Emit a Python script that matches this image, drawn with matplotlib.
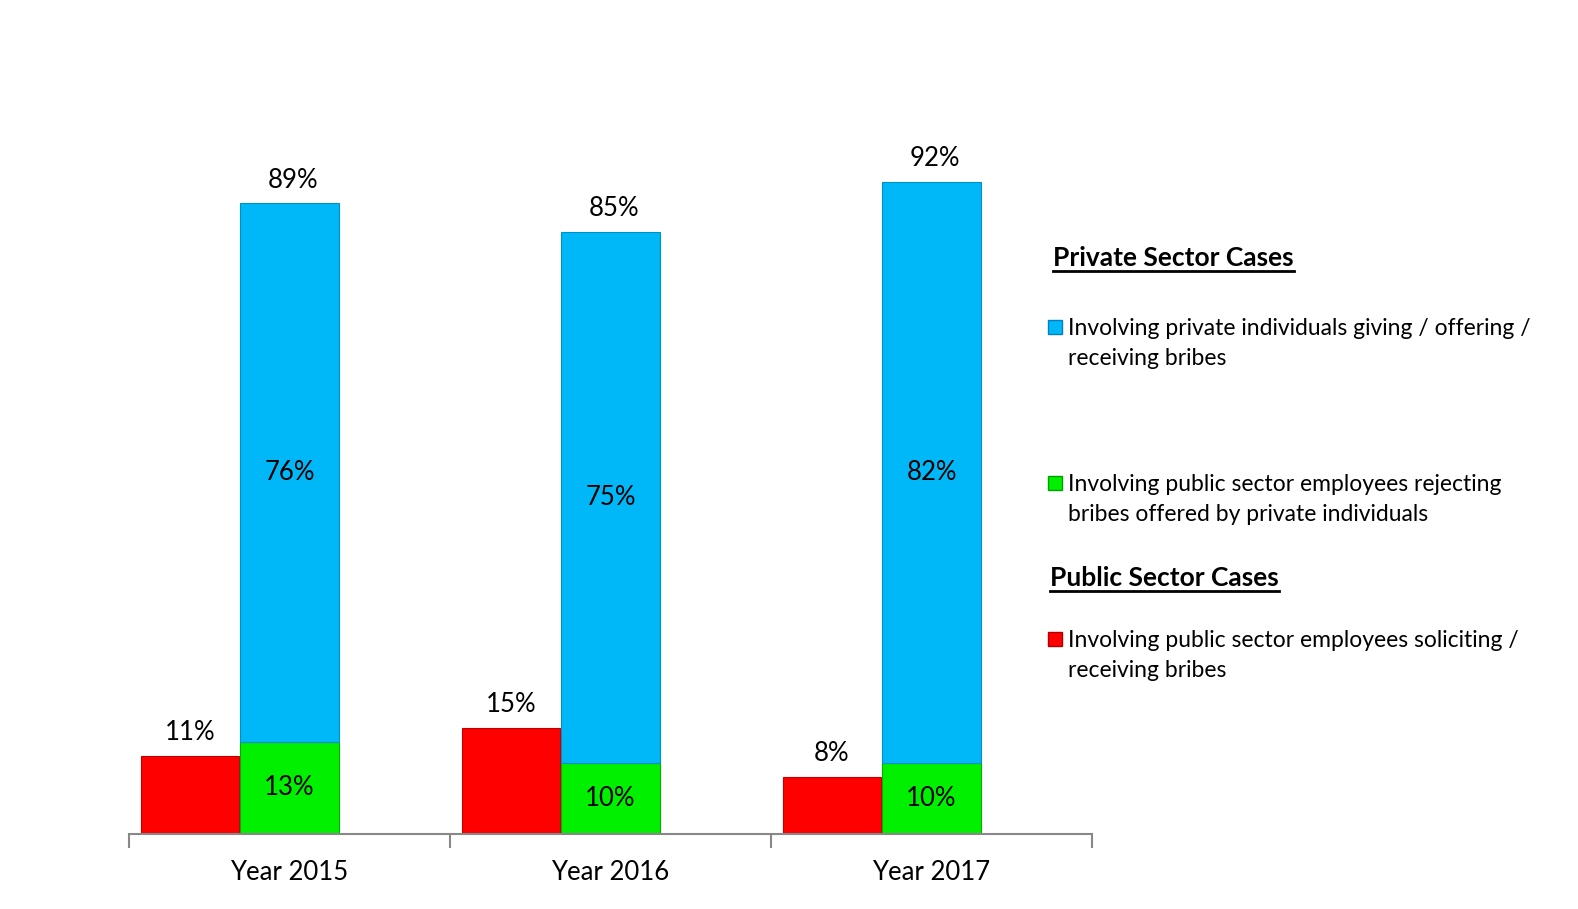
import matplotlib.pyplot as plt
from matplotlib.patches import Rectangle
from matplotlib.lines import Line2D

plt.rcParams['font.family'] = ['Lato', 'DejaVu Sans']

# datos
years = ["Year 2015", "Year 2016", "Year 2017"]
public_soliciting = [11, 15, 8]
public_rejecting = [13, 10, 10]
private_giving = [76, 75, 82]
private_total = [89, 85, 92]

RED = "#ff0000"
GREEN = "#00f000"
BLUE = "#00b8f8"

W, H = 1578, 909
fig = plt.figure(figsize=(W / 100, H / 100), dpi=100)
ax = fig.add_axes([129 / W, (H - 834) / H, 963 / W, 708.5 / H])

x = list(range(len(years)))
bw = 0.307
xr = [i - 0.31 for i in x]

ax.bar(xr, public_soliciting, width=bw, color=RED, edgecolor="#c00000", lw=0.8)
ax.bar(x, public_rejecting, width=bw, color=GREEN, edgecolor="#00b000", lw=0.8)
ax.bar(x, private_giving, width=bw, bottom=public_rejecting, color=BLUE,
       edgecolor="#0090c8", lw=0.8)

fs = 18.5
for i in x:
    ax.text(xr[i], public_soliciting[i] + 3.3, f"{public_soliciting[i]}%",
            ha="center", va="center", fontsize=fs)
    ax.text(i, public_rejecting[i] / 2, f"{public_rejecting[i]}%",
            ha="center", va="center", fontsize=fs)
    ax.text(i, public_rejecting[i] + private_giving[i] / 2, f"{private_giving[i]}%",
            ha="center", va="center", fontsize=fs)
    ax.text(i + 0.01, private_total[i] + 3.3, f"{private_total[i]}%",
            ha="center", va="center", fontsize=fs)

ax.set_xlim(-0.5, 2.5)
ax.set_ylim(0, 100)
ax.set_yticks([])
for s in ["top", "right", "left"]:
    ax.spines[s].set_visible(False)
ax.spines["bottom"].set_color("#888888")
ax.spines["bottom"].set_linewidth(1.5)
ax.set_xticks(x)
ax.set_xticklabels(years, fontsize=fs)
ax.tick_params(axis="x", which="major", length=0, pad=19)
ax.set_xticks([-0.5, 0.5, 1.5, 2.5], minor=True)
ax.tick_params(axis="x", which="minor", length=10, width=1.5, color="#888888")

# leyenda manual
def fy(py):
    return 1 - py / H

heads = [("Private Sector Cases", 1053, 258), ("Public Sector Cases", 1050, 578)]
items = [
    (BLUE, "#0080c0", 327, "Involving private individuals giving / offering /\nreceiving bribes"),
    (GREEN, "#00a000", 483, "Involving public sector employees rejecting\nbribes offered by private individuals"),
    (RED, "#b00000", 639, "Involving public sector employees soliciting /\nreceiving bribes"),
]

head_txt = []
for t, px, py in heads:
    head_txt.append(fig.text(px / W, fy(py), t, fontsize=19, fontweight="bold",
                             ha="left", va="center"))
for c, ec, py, t in items:
    fig.patches.append(Rectangle((1048 / W, fy(py + 7)), 14 / W, 14 / H,
                                 transform=fig.transFigure, facecolor=c,
                                 edgecolor=ec, lw=1, figure=fig))
    fig.text(1068 / W, fy(py - 9), t, fontsize=16.5, ha="left", va="top",
             linespacing=1.55)

# subrayado
fig.canvas.draw()
r = fig.canvas.get_renderer()
for t in head_txt:
    bb = t.get_window_extent(r)
    yy = bb.y0 - 1
    fig.lines.append(Line2D([bb.x0 / W, bb.x1 / W], [yy / H, yy / H],
                            transform=fig.transFigure, color="black", lw=2))

fig.savefig("out.png", dpi=100)
